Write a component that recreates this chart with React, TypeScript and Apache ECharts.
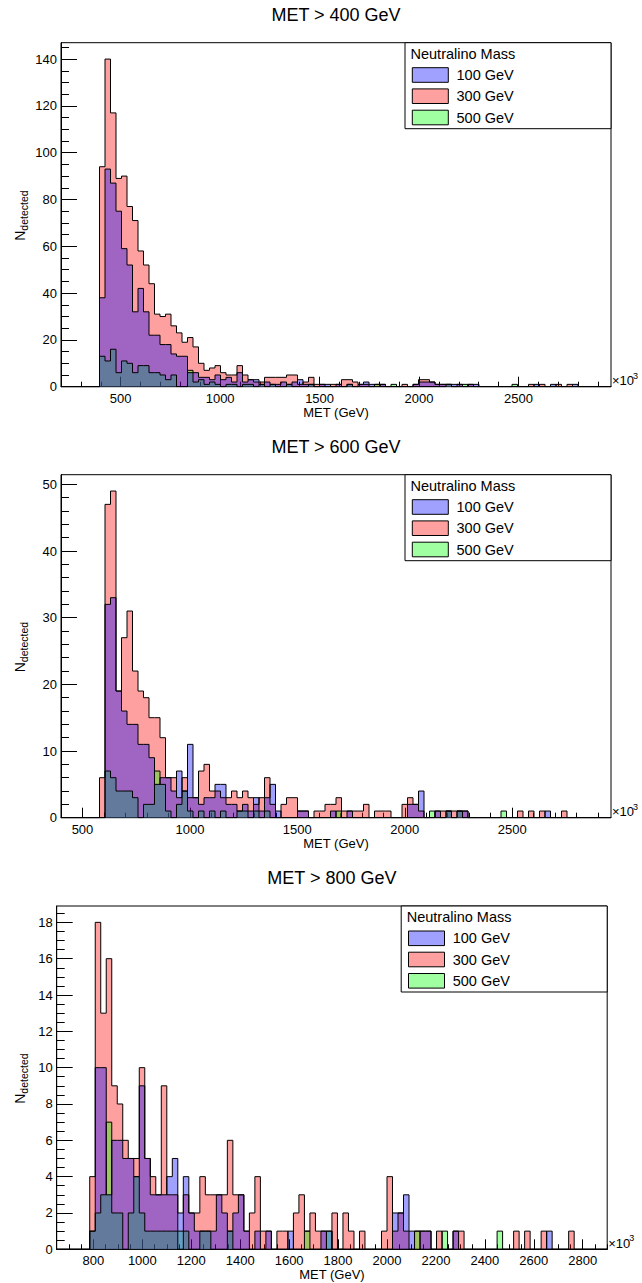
import React, { useEffect, useRef } from "react";
import * as echarts from "echarts";

// ---------- texts ----------
const titles = ["MET > 400 GeV", "MET > 600 GeV", "MET > 800 GeV"];
const legendHeader = "Neutralino Mass";
const legendLabels = ["100 GeV", "300 GeV", "500 GeV"];
const xTitle = "MET (GeV)";

// ---------- binning (100 bins per panel) ----------
const xMin = [200, 400, 650];
const binWidth = [27.65, 25.6, 22.5];
const yMax = [147, 51.45, 18.9];
const yMajorStep = [20, 10, 2];
const yMinorStep = [5, 2, 0.5];
const xMajorStep = [500, 500, 200];
const xMinorStep = [100, 100, 50];

// ---------- MET > 400 GeV ----------
const p1_m100 = [
  0,0,0,0,0,0,0,38,93,87,
  75,59,52,32,42,32,22,22,18,18,
  14,13,13,6,6,4,4,3,5,3,
  4,2,6,2,3,3,1,2,1,1,
  2,1,2,3,1,1,0,1,1,0,
  1,0,1,0,1,2,1,0,1,0,
  0,0,0,0,1,2,2,2,1,1,
  1,1,1,0,1,1,0,0,0,0,
  0,0,0,0,0,0,1,0,0,1,
  0,0,0,1,0,0,0,0,0,0,
];
const p1_m300 = [
  0,0,0,0,0,0,0,94,140,117,
  89,90,77,71,58,52,44,31,30,31,
  26,23,19,21,17,10,7,8,9,6,
  5,5,9,5,3,2,2,4,4,4,
  4,5,5,1,2,4,1,1,0,1,
  1,3,3,2,1,1,0,1,1,0,
  0,0,1,0,1,3,3,2,1,1,
  1,0,1,0,1,0,0,0,0,0,
  0,0,0,0,0,1,0,1,0,0,
  1,0,1,0,0,0,0,0,0,0,
];
const p1_m500 = [
  0,0,0,0,0,0,0,13,11,16,
  6,11,10,6,9,9,6,6,5,3,
  5,0,0,7,2,3,1,2,1,0,
  1,1,0,1,1,0,1,0,1,0,
  0,1,0,0,0,1,0,0,0,0,
  0,0,1,0,0,0,0,1,0,0,
  1,0,0,0,0,0,0,0,0,0,
  1,0,0,1,0,0,0,0,0,0,
  0,0,1,0,0,0,0,0,0,0,
  0,0,0,0,0,0,0,0,0,0,
];

// ---------- MET > 600 GeV ----------
const p2_m100 = [
  0,0,0,0,0,0,0,0,32,33,
  19,16,14,14,11,11,9,5,6,6,
  4,7,4,11,3,2,3,3,5,5,
  2,2,1,2,1,3,1,3,5,1,
  0,0,0,1,1,0,0,0,0,1,
  0,0,1,0,0,0,0,0,0,0,
  0,0,0,2,2,4,0,0,1,0,
  1,0,1,1,0,0,0,0,0,0,
  0,0,0,0,0,0,0,0,1,0,
  0,0,0,0,0,0,0,0,0,0,
];
const p2_m300 = [
  0,0,0,0,0,0,0,6,47,49,
  19,27,31,22,19,18,15,15,12,6,
  6,3,6,3,3,7,8,4,4,3,
  3,4,3,4,3,2,3,6,2,0,
  2,3,3,1,1,0,1,1,2,2,
  3,1,1,1,1,2,0,1,1,1,
  0,0,2,3,2,1,0,0,1,1,
  1,1,1,1,0,0,0,0,0,0,
  0,0,0,1,0,1,0,1,0,0,
  0,1,0,0,0,0,0,0,0,0,
];
const p2_m500 = [
  0,0,0,0,0,0,0,0,7,6,
  4,4,4,3,0,2,2,7,5,1,
  0,2,4,1,0,1,0,1,0,1,
  0,0,1,1,0,1,0,1,0,0,
  0,0,0,0,0,0,0,0,0,0,
  1,0,0,0,0,0,0,0,0,0,
  0,0,0,0,0,0,0,1,0,0,
  1,0,1,0,0,0,0,0,0,0,
  1,0,0,0,0,0,0,0,0,0,
  0,0,0,0,0,0,0,0,0,0,
];

// ---------- MET > 800 GeV ----------
const p3_m100 = [
  0,0,0,0,0,0,1,10,10,3,
  6,6,5,5,4,9,5,3,3,3,
  4,5,2,4,2,1,1,1,1,3,
  2,1,2,3,1,0,1,0,1,0,
  0,0,1,0,0,0,0,0,1,1,
  0,0,0,0,0,0,0,0,0,0,
  0,2,2,3,1,0,1,1,0,0,
  0,0,1,0,0,0,0,0,0,0,
  0,0,0,0,0,0,0,0,0,1,
  0,0,0,0,0,0,0,0,0,0,
];
const p3_m300 = [
  0,0,0,0,0,0,4,18,13,16,
  9,8,6,5,5,10,5,4,3,9,
  3,3,0,3,2,2,4,3,3,3,
  3,6,3,3,1,2,4,1,1,0,
  1,1,0,2,3,1,2,1,1,0,
  2,0,2,1,0,1,0,0,0,1,
  4,1,2,1,0,1,1,1,0,1,
  0,0,1,1,0,0,0,0,0,0,
  0,0,0,1,0,1,0,0,1,0,
  0,0,0,1,0,0,0,0,0,0,
];
const p3_m500 = [
  0,0,0,0,0,0,1,2,3,7,
  2,2,0,2,4,2,1,1,1,1,
  1,1,1,1,0,0,1,1,0,0,
  0,1,0,0,0,0,0,0,0,0,
  0,0,0,0,0,1,0,0,0,1,
  0,0,0,0,0,0,0,0,0,0,
  0,0,0,0,0,1,0,0,0,0,
  1,0,0,0,0,0,0,0,0,0,
  1,0,0,0,0,0,0,0,0,0,
  0,0,0,0,0,0,0,0,0,0,
];

const panelData = [
  { m100: p1_m100, m300: p1_m300, m500: p1_m500 },
  { m100: p2_m100, m300: p2_m300, m500: p2_m500 },
  { m100: p3_m100, m300: p3_m300, m500: p3_m500 },
];

// ---------- layout / style ----------
const W = 642;
const H = 1283;
const FONT = "'Liberation Sans', Arial, Helvetica, sans-serif";
const grids = [
  { left: 61, top: 42.7, width: 550, height: 344 },
  { left: 61, top: 474.7, width: 550, height: 343 },
  { left: 56.7, top: 906, width: 550.5, height: 343.3 },
];
const ALPHA = 0.373;
const FILL = {
  m100: `rgba(0,0,255,${ALPHA})`,
  m300: `rgba(255,0,0,${ALPHA})`,
  m500: `rgba(0,255,0,${ALPHA})`,
};

function ticks(a: number, b: number, step: number): number[] {
  const out: number[] = [];
  const start = Math.ceil(a / step - 1e-9) * step;
  for (let v = start; v <= b + 1e-9; v += step) out.push(+v.toFixed(6));
  return out;
}

function stepData(x0: number, w: number, vals: number[]) {
  const d: number[][] = vals.map((v, i) => [x0 + i * w, v]);
  d.push([x0 + vals.length * w, 0]);
  return d;
}

const plain = (v: number) => String(Math.round(v * 1000) / 1000);

function buildOption() {
  const xAxis: any[] = [];
  const yAxis: any[] = [];
  const series: any[] = [];
  const graphic: any[] = [];
  const grid: any[] = [];

  grids.forEach((g, p) => {
    grid.push({
      left: g.left,
      top: g.top,
      width: g.width,
      height: g.height,
      show: true,
      borderColor: "#000",
      borderWidth: 1,
      backgroundColor: "transparent",
    });
    const xmax = xMin[p] + 100 * binWidth[p];
    const xMinorVals = ticks(xMin[p], xmax, xMinorStep[p]);
    const xMajorVals = ticks(xMin[p], xmax, xMajorStep[p]);
    const yMinorVals = ticks(0, yMax[p], yMinorStep[p]);
    const yMajorVals = ticks(0, yMax[p], yMajorStep[p]);

    xAxis.push({
      type: "value",
      gridIndex: p,
      min: xMin[p],
      max: xmax,
      position: "bottom",
      axisLine: { show: true, onZero: false, lineStyle: { color: "#000", width: 1 } },
      axisTick: { show: true, inside: true, length: 5, customValues: xMinorVals, lineStyle: { color: "#000" } },
      axisLabel: { show: true, customValues: xMajorVals, formatter: plain, color: "#000", fontSize: 13, fontFamily: FONT, margin: 5 },
      splitLine: { show: false },
      name: xTitle,
      nameLocation: "middle",
      nameGap: 16,
      nameTextStyle: { color: "#000", fontSize: 13, fontFamily: FONT },
    });
    xAxis.push({
      type: "value",
      gridIndex: p,
      min: xMin[p],
      max: xmax,
      position: "bottom",
      axisLine: { show: false, onZero: false },
      axisTick: { show: true, inside: true, length: 10, customValues: xMajorVals, lineStyle: { color: "#000" } },
      axisLabel: { show: false },
      splitLine: { show: false },
    });
    yAxis.push({
      type: "value",
      gridIndex: p,
      min: 0,
      max: yMax[p],
      position: "left",
      axisLine: { show: true, onZero: false, lineStyle: { color: "#000", width: 1 } },
      axisTick: { show: true, inside: true, length: 8, customValues: yMinorVals, lineStyle: { color: "#000" } },
      axisLabel: { show: true, customValues: yMajorVals, formatter: plain, color: "#000", fontSize: 13, fontFamily: FONT, margin: 4 },
      splitLine: { show: false },
    });
    yAxis.push({
      type: "value",
      gridIndex: p,
      min: 0,
      max: yMax[p],
      position: "left",
      axisLine: { show: false, onZero: false },
      axisTick: { show: true, inside: true, length: 16, customValues: yMajorVals, lineStyle: { color: "#000" } },
      axisLabel: { show: false },
      splitLine: { show: false },
    });

    const d = panelData[p];
    (["m300", "m500", "m100"] as const).forEach((key) => {
      series.push({
        type: "line",
        name: key,
        xAxisIndex: 2 * p,
        yAxisIndex: 2 * p,
        data: stepData(xMin[p], binWidth[p], d[key]),
        step: "end",
        symbol: "none",
        showSymbol: false,
        silent: true,
        lineStyle: { color: "#000", width: 1 },
        itemStyle: { color: "#000" },
        areaStyle: { color: FILL[key], opacity: 1 },
      });
    });

    const gRight = g.left + g.width;
    const gBottom = g.top + g.height;

    // title
    graphic.push({
      type: "text",
      x: g.left + g.width / 2,
      y: g.top - 28,
      style: {
        text: titles[p],
        fontSize: 18,
        fontFamily: FONT,
        fill: "#000",
        align: "center",
        verticalAlign: "middle",
        textAlign: "center",
        textVerticalAlign: "middle",
      },
    });

    // y title N_detected
    graphic.push({
      type: "group",
      x: 20,
      y: g.top + g.height / 2,
      rotation: Math.PI / 2,
      children: [
        {
          type: "text",
          x: -26,
          y: 0,
          style: { text: "N", fontSize: 14, fontFamily: FONT, fill: "#000", align: "left", verticalAlign: "middle", textAlign: "left", textVerticalAlign: "middle" },
        },
        {
          type: "text",
          x: -16,
          y: 4,
          style: { text: "detected", fontSize: 10.5, fontFamily: FONT, fill: "#000", align: "left", verticalAlign: "middle", textAlign: "left", textVerticalAlign: "middle" },
        },
      ],
    });

    // x10^3
    graphic.push({
      type: "text",
      x: gRight + 1,
      y: gBottom - 6,
      style: { text: "\u00d710", fontSize: 13, fontFamily: FONT, fill: "#000", align: "left", verticalAlign: "middle", textAlign: "left", textVerticalAlign: "middle" },
    });
    graphic.push({
      type: "text",
      x: gRight + 22,
      y: gBottom - 11,
      style: { text: "3", fontSize: 9, fontFamily: FONT, fill: "#000", align: "left", verticalAlign: "middle", textAlign: "left", textVerticalAlign: "middle" },
    });

    // legend
    const lw = 206;
    const lh = 86;
    const lx = gRight - lw;
    const ly = g.top;
    graphic.push({
      type: "rect",
      z: 100,
      shape: { x: lx, y: ly, width: lw, height: lh },
      style: { fill: "#fff", stroke: "#000", lineWidth: 1 },
    });
    graphic.push({
      type: "text",
      z: 101,
      x: lx + 5.5,
      y: ly + 10.8,
      style: { text: legendHeader, fontSize: 14.5, fontFamily: FONT, fill: "#000", align: "left", verticalAlign: "middle", textAlign: "left", textVerticalAlign: "middle" },
    });
    const legendFills = [FILL.m100, FILL.m300, FILL.m500];
    const rowY = [32.3, 53.5, 74.8];
    legendLabels.forEach((lab, i) => {
      graphic.push({
        type: "rect",
        z: 101,
        shape: { x: lx + 7.3, y: ly + rowY[i] - 7.3, width: 36, height: 14.6 },
        style: { fill: legendFills[i], stroke: "#000", lineWidth: 1 },
      });
      graphic.push({
        type: "text",
        z: 101,
        x: lx + 51.5,
        y: ly + rowY[i],
        style: { text: lab, fontSize: 14.5, fontFamily: FONT, fill: "#000", align: "left", verticalAlign: "middle", textAlign: "left", textVerticalAlign: "middle" },
      });
    });
  });

  return {
    animation: false,
    backgroundColor: "#fff",
    grid,
    xAxis,
    yAxis,
    series,
    graphic,
  };
}

export default function App() {
  const ref = useRef<HTMLDivElement>(null);
  useEffect(() => {
    document.body.style.margin = "0";
    if (!ref.current) return;
    const chart = echarts.init(ref.current, undefined, { renderer: "svg", width: W, height: H });
    chart.setOption(buildOption() as any);
    return () => {
      chart.dispose();
    };
  }, []);
  return <div ref={ref} style={{ width: W, height: H }} />;
}
